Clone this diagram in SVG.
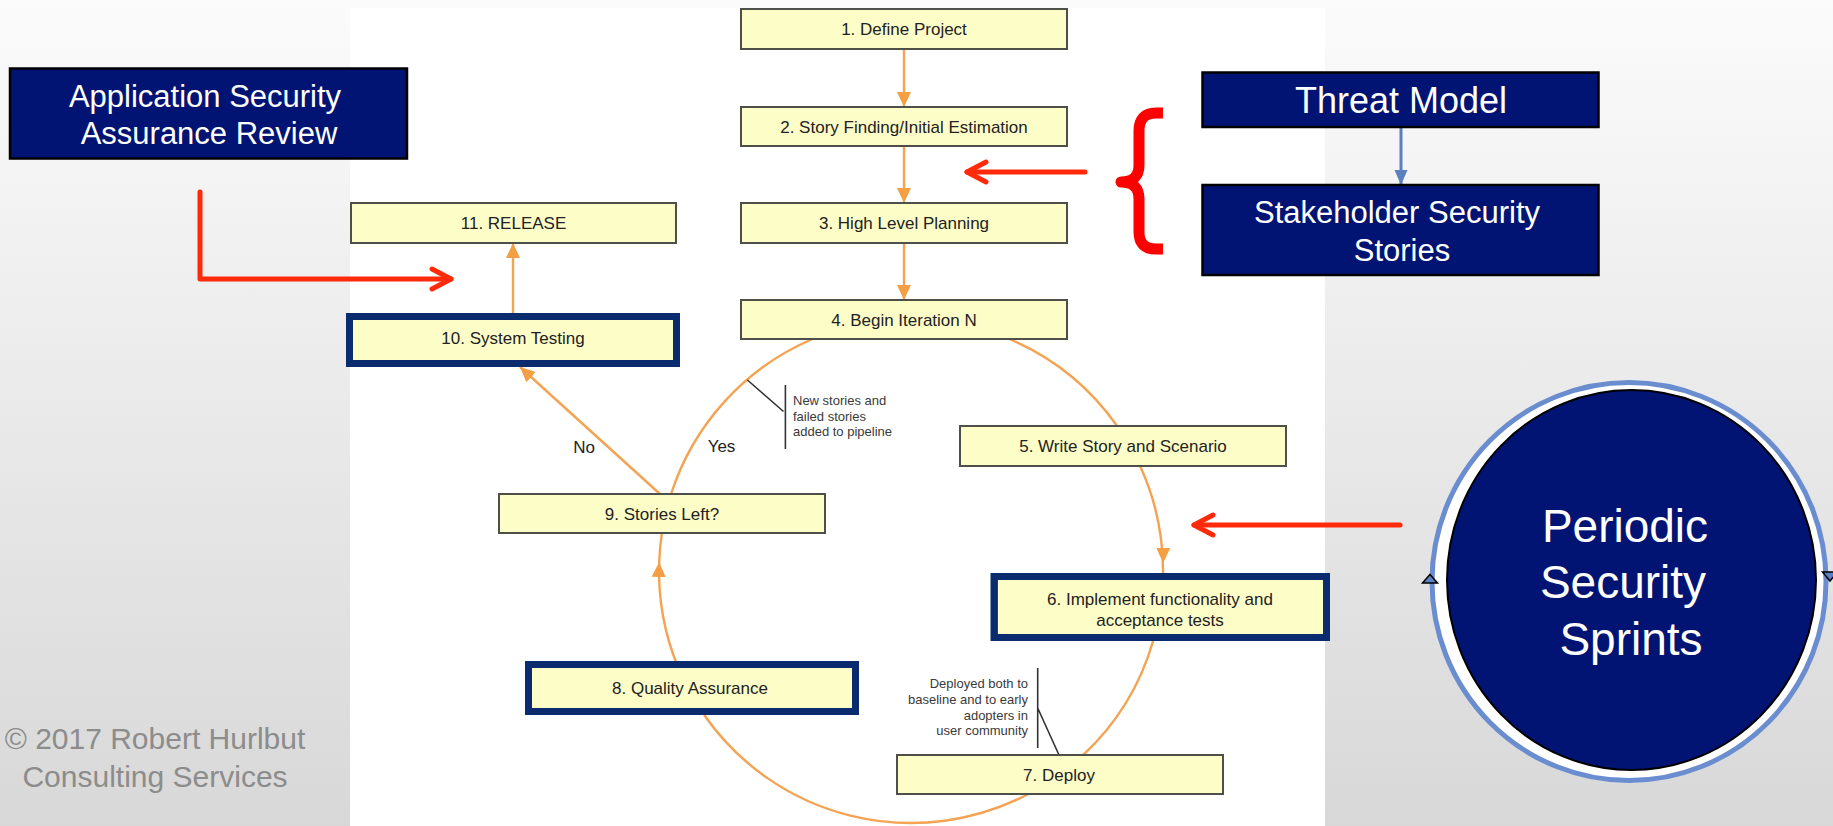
<svg xmlns="http://www.w3.org/2000/svg" width="1833" height="826" viewBox="0 0 1833 826">
  <defs>
    <linearGradient id="bgGrad" x1="0" y1="0" x2="0" y2="1">
      <stop offset="0" stop-color="#fbfbfb"/>
      <stop offset="1" stop-color="#d8d8d8"/>
    </linearGradient>
    <!-- filled orange arrowhead, tip on the path end -->
    <marker id="headOrange" markerUnits="userSpaceOnUse" markerWidth="16" markerHeight="16" viewBox="0 0 16 14" refX="15" refY="7" orient="auto">
      <path d="M0,0 L15,7 L0,14 z" fill="#f59f45"/>
    </marker>
    <!-- same head, tip set back 11px from the path end -->
    <marker id="headOrangeInset" markerUnits="userSpaceOnUse" markerWidth="28" markerHeight="16" viewBox="0 0 28 14" refX="26" refY="7" orient="auto">
      <path d="M0,0 L15,7 L0,14 z" fill="#f59f45"/>
    </marker>
    <marker id="headBlue" markerUnits="userSpaceOnUse" markerWidth="16" markerHeight="14" viewBox="0 0 16 14" refX="15" refY="7" orient="auto">
      <path d="M0,0.5 L15,7 L0,13.5 z" fill="#5b7fbf"/>
    </marker>
    <!-- open chevron head for the red pointers -->
    <marker id="headRed" markerUnits="userSpaceOnUse" markerWidth="30" markerHeight="30" viewBox="-5 -5 30 30" refX="20" refY="10" orient="auto" overflow="visible">
      <path d="M1,0 L20,10 L1,20" fill="none" stroke="#ff2a0a" stroke-width="5" stroke-linecap="round" stroke-linejoin="round"/>
    </marker>
  </defs>
  <style>
    text { font-family: "Liberation Sans", Arial, sans-serif; }
    .step rect { fill: #fdfdc8; stroke: #4f4f4a; stroke-width: 2; }
    .step text { font-size: 17px; fill: #222222; text-anchor: middle; }
    .step rect.frame { fill: none; stroke: #0a2c6f; stroke-width: 7; }
    .flow { fill: none; stroke: #f4a352; stroke-width: 2.4; }
    .note-line { fill: none; stroke: #333333; stroke-width: 1.6; }
    .note { font-size: 13px; fill: #3a3a3a; }
    .pointer { fill: none; stroke: #ff2a0a; stroke-width: 5; stroke-linecap: round; stroke-linejoin: round; }
    .sec rect { fill: #021473; stroke: #000000; stroke-width: 2.5; }
    .sec text { fill: #ffffff; text-anchor: middle; }
    .label { font-size: 17px; fill: #222222; text-anchor: middle; }
  </style>

  <!-- slide background and the white process panel -->
  <rect x="0" y="0" width="1833" height="826" fill="url(#bgGrad)"/>
  <rect x="350" y="8" width="975" height="818" fill="#ffffff"/>

  <!-- copyright -->
  <g id="copyright" fill="#8c8c8c" font-size="30" text-anchor="middle">
    <text x="155" y="749">© 2017 Robert Hurlbut</text>
    <text x="155" y="787">Consulting Services</text>
  </g>

  <!-- connectors -->
  <g id="connectors">
    <!-- linear start of the process -->
    <path class="flow" d="M904,49 V107" marker-end="url(#headOrange)"/>
    <path class="flow" d="M904,146 V203" marker-end="url(#headOrange)"/>
    <path class="flow" d="M904,243 V300" marker-end="url(#headOrange)"/>
    <!-- iteration loop (circle centre 911,571 r 252) -->
    <path class="flow" d="M1009.4,339 A252,252 0 0 1 1117.1,426"/>
    <path class="flow" d="M1140.1,466 A252,252 0 0 1 1163,574" marker-end="url(#headOrangeInset)"/>
    <path class="flow" d="M1153.1,641 A252,252 0 0 1 1083.2,755"/>
    <path class="flow" d="M1028.4,794 A252,252 0 0 1 704.2,715"/>
    <path class="flow" d="M678.4,668 A252,252 0 0 1 659.2,562" marker-end="url(#headOrange)"/>
    <path class="flow" d="M659.2,562 A252,252 0 0 1 661.9,533"/>
    <path class="flow" d="M671.1,494 A252,252 0 0 1 812.6,339"/>
    <!-- No branch and release -->
    <path class="flow" d="M660,494 L520,367" marker-end="url(#headOrange)"/>
    <path class="flow" d="M513,320 V243" marker-end="url(#headOrange)"/>
    <!-- callout leaders -->
    <path class="note-line" d="M785.4,385 V449 M747.4,380 L783.5,411.5"/>
    <path class="note-line" d="M1037.7,668 V748 M1037.7,708 L1059,755"/>
    <!-- security inputs -->
    <path d="M1401,127 V185" fill="none" stroke="#5b7fbf" stroke-width="3" marker-end="url(#headBlue)"/>
    <path class="pointer" d="M200,192 V279 H451" marker-end="url(#headRed)"/>
    <path class="pointer" d="M1085,172 H967" marker-end="url(#headRed)"/>
    <path class="pointer" d="M1400,525 H1194" marker-end="url(#headRed)"/>
  </g>

  <!-- loop labels and callout texts -->
  <g id="loop-labels">
    <text class="label" x="584" y="453">No</text>
    <text class="label" x="721.5" y="452">Yes</text>
    <text class="note" x="793" y="404.5">New stories and</text>
    <text class="note" x="793" y="420.5">failed stories</text>
    <text class="note" x="793" y="436">added to pipeline</text>
    <g text-anchor="end">
      <text class="note" x="1028" y="687.5">Deployed both to</text>
      <text class="note" x="1028" y="703.5">baseline and to early</text>
      <text class="note" x="1028" y="719.5">adopters in</text>
      <text class="note" x="1028" y="734.5">user community</text>
    </g>
  </g>

  <!-- brace grouping the two story inputs -->
  <g id="brace">
    <path d="M1163,113 H1156 Q1139,113 1139,131 V165 Q1139,182 1121,182 Q1139,182 1139,199 V232 Q1139,249 1156,249 H1163" fill="none" stroke="#ff0000" stroke-width="11" stroke-linejoin="round"/>
  </g>

  <!-- process steps -->
  <g id="step1" class="step">
    <rect x="741" y="9" width="326" height="40"/>
    <text x="904" y="35">1. Define Project</text>
  </g>
  <g id="step2" class="step">
    <rect x="741" y="107" width="326" height="39"/>
    <text x="904" y="132.5">2. Story Finding/Initial Estimation</text>
  </g>
  <g id="step3" class="step">
    <rect x="741" y="203" width="326" height="40"/>
    <text x="904" y="229">3. High Level Planning</text>
  </g>
  <g id="step4" class="step">
    <rect x="741" y="300" width="326" height="39"/>
    <text x="904" y="325.5">4. Begin Iteration N</text>
  </g>
  <g id="step5" class="step">
    <rect x="960" y="426" width="326" height="40"/>
    <text x="1123" y="452">5. Write Story and Scenario</text>
  </g>
  <g id="step6" class="step">
    <rect x="997" y="579" width="327" height="57"/>
    <text x="1160" y="605">6. Implement functionality and</text>
    <text x="1160" y="626">acceptance tests</text>
    <rect class="frame" x="994" y="576.5" width="332.5" height="61"/>
  </g>
  <g id="step7" class="step">
    <rect x="897" y="755" width="326" height="39"/>
    <text x="1059" y="780.5">7. Deploy</text>
  </g>
  <g id="step8" class="step">
    <rect x="531" y="667" width="322" height="42"/>
    <text x="690" y="694">8. Quality Assurance</text>
    <rect class="frame" x="528.5" y="664.5" width="327" height="47"/>
  </g>
  <g id="step9" class="step">
    <rect x="499" y="494" width="326" height="39"/>
    <text x="662" y="519.5">9. Stories Left?</text>
  </g>
  <g id="step10" class="step">
    <rect x="352" y="319" width="322" height="42"/>
    <text x="513" y="344">10. System Testing</text>
    <rect class="frame" x="349.5" y="316.5" width="327" height="47"/>
  </g>
  <g id="step11" class="step">
    <rect x="351" y="203" width="325" height="40"/>
    <text x="513.5" y="229">11. RELEASE</text>
  </g>

  <!-- security activities -->
  <g id="assurance-review" class="sec">
    <rect x="10" y="68.5" width="397" height="90"/>
    <text x="205" y="107" font-size="31">Application Security</text>
    <text x="209" y="144" font-size="31">Assurance Review</text>
  </g>
  <g id="threat-model" class="sec">
    <rect x="1202.5" y="72.5" width="396" height="54.5"/>
    <text x="1401" y="113" font-size="36">Threat Model</text>
  </g>
  <g id="security-stories" class="sec">
    <rect x="1202.5" y="185" width="396" height="90"/>
    <text x="1397" y="223" font-size="31">Stakeholder Security</text>
    <text x="1402" y="261" font-size="31">Stories</text>
  </g>
  <g id="security-sprints">
    <ellipse cx="1629" cy="581.5" rx="197" ry="199" fill="#ffffff" stroke="#6a8dd0" stroke-width="5"/>
    <ellipse cx="1631.5" cy="580" rx="184.5" ry="190" fill="#021473" stroke="#000000" stroke-width="2"/>
    <polygon points="1430,574.5 1437.5,583 1422.5,583" fill="#5b80c4" stroke="#000000" stroke-width="1.5"/>
    <polygon points="1822.5,572 1837.5,572 1830,581" fill="#5b80c4" stroke="#000000" stroke-width="1.5"/>
    <g fill="#ffffff" font-size="46" text-anchor="middle">
      <text x="1625" y="542">Periodic</text>
      <text x="1623" y="598">Security</text>
      <text x="1631" y="655">Sprints</text>
    </g>
  </g>
</svg>
